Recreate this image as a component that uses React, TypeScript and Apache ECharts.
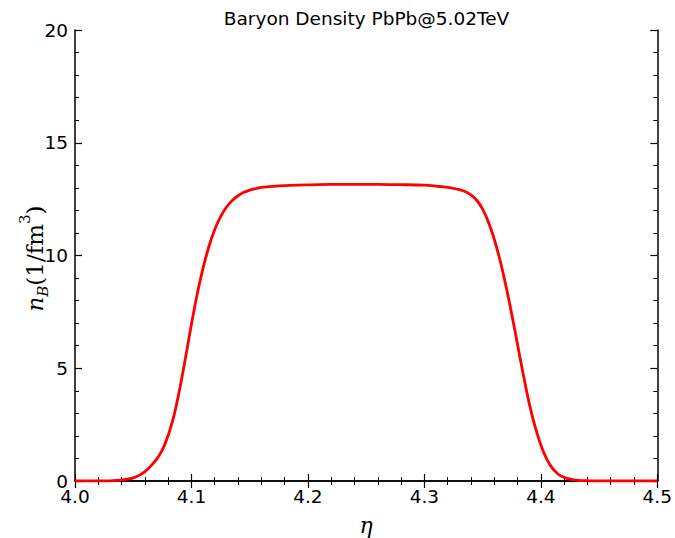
import React, { useEffect, useRef } from "react";
import * as echarts from "echarts";

const etaValues = [
  4.0, 4.01, 4.02, 4.03, 4.04, 4.045, 4.05, 4.055, 4.06, 4.065, 4.07, 4.075, 4.08, 4.085, 4.09, 4.095,
  4.1, 4.105, 4.11, 4.115, 4.12, 4.125, 4.13, 4.135, 4.14, 4.145, 4.15, 4.155, 4.16, 4.17, 4.18, 4.2,
  4.22, 4.24, 4.26, 4.28, 4.3, 4.31, 4.315, 4.32, 4.325, 4.33, 4.335, 4.34, 4.345, 4.35, 4.355, 4.36,
  4.365, 4.37, 4.375, 4.38, 4.385, 4.39, 4.395, 4.4, 4.405, 4.41, 4.415, 4.42, 4.425, 4.43, 4.435, 4.44,
  4.45, 4.5,
];
const nBValues = [
  0, 0, 0, 0.01, 0.04, 0.08, 0.14, 0.25, 0.42, 0.66, 0.96, 1.38, 2.02, 2.9, 4.1, 5.5,
  6.95, 8.3, 9.45, 10.4, 11.15, 11.72, 12.14, 12.44, 12.65, 12.8, 12.9, 12.97, 13.02, 13.07, 13.1, 13.13,
  13.15, 13.15, 13.15, 13.14, 13.12, 13.08, 13.05, 13.02, 12.98, 12.92, 12.84, 12.69, 12.45, 12.06, 11.48, 10.72,
  9.78, 8.66, 7.4, 6.05, 4.7, 3.45, 2.42, 1.6, 0.98, 0.56, 0.3, 0.16, 0.08, 0.04, 0.02, 0.01,
  0, 0,
];
const xTicks = { min: 4.0, max: 4.5, interval: 0.1 };
const yTicks = { min: 0, max: 20, interval: 5 };
const titleText = "Baryon Density PbPb@5.02TeV";
const xName = "η";

const SANS = "DejaVu Sans";
const SERIF = "DejaVu Serif";

function measure(text: string, font: string): number {
  const c = document.createElement("canvas");
  const ctx = c.getContext("2d");
  if (!ctx) return text.length * 10;
  ctx.font = font;
  return ctx.measureText(text).width;
}

export default function App() {
  const ref = useRef<HTMLDivElement>(null);
  useEffect(() => {
    if (!ref.current) return;
    const chart = echarts.init(ref.current, undefined, { renderer: "svg" });
    const gridLeft = 75, gridRight = 17, gridTop = 30, gridBottom = 57;

    // y-axis label pieces
    const mainSize = 23, smallSize = 15;
    const pieces = [
      { text: "n", size: mainSize, italic: true, base: 0 },
      { text: "B", size: smallSize, italic: true, base: 5 },
      { text: "(1/fm", size: mainSize, italic: false, base: 0 },
      { text: "3", size: smallSize, italic: false, base: -13 },
      { text: ")", size: mainSize, italic: false, base: 0 },
    ];
    const widths = pieces.map((p) =>
      measure(p.text, `${p.italic ? "italic " : ""}${p.size}px "${SERIF}"`)
    );
    const total = widths.reduce((a, b) => a + b, 0);
    let cur = -total / 2;
    const labelChildren = pieces.map((p, i) => {
      const el = {
        type: "text",
        x: cur,
        y: p.base - 0.35 * p.size,
        style: {
          text: p.text,
          fontFamily: SERIF,
          fontStyle: p.italic ? "italic" : "normal",
          fontSize: p.size,
          fill: "#000",
          align: "left",
          verticalAlign: "middle",
        },
      };
      cur += widths[i];
      return el;
    });

    const axisLine = { show: true, lineStyle: { color: "#000", width: 1.5 } };
    const tick = { show: true, inside: true, length: 7, lineStyle: { color: "#000", width: 1.2 } };
    const minor = { show: true, splitNumber: 5, length: 4, lineStyle: { color: "#000", width: 1 } };
    const label = { color: "#000", fontFamily: SANS, fontSize: 18.5 };

    const option = {
      animation: false,
      backgroundColor: "#fff",
      grid: { left: gridLeft, right: gridRight, top: gridTop, bottom: gridBottom, containLabel: false },
      xAxis: [
        {
          type: "value",
          min: xTicks.min,
          max: xTicks.max,
          interval: xTicks.interval,
          position: "bottom",
          axisLine,
          axisTick: tick,
          minorTick: minor,
          splitLine: { show: false },
          axisLabel: { ...label, lineHeight: 16, margin: 7.5, formatter: (v: number) => v.toFixed(1) },
        },
        {
          type: "value",
          min: xTicks.min,
          max: xTicks.max,
          interval: xTicks.interval,
          position: "top",
          axisLine,
          axisTick: tick,
          minorTick: minor,
          splitLine: { show: false },
          axisLabel: { show: false },
        },
      ],
      yAxis: [
        {
          type: "value",
          min: yTicks.min,
          max: yTicks.max,
          interval: yTicks.interval,
          position: "left",
          axisLine,
          axisTick: tick,
          minorTick: minor,
          splitLine: { show: false },
          axisLabel: { ...label, lineHeight: 14, margin: 7 },
        },
        {
          type: "value",
          min: yTicks.min,
          max: yTicks.max,
          interval: yTicks.interval,
          position: "right",
          axisLine,
          axisTick: tick,
          minorTick: minor,
          splitLine: { show: false },
          axisLabel: { show: false },
        },
      ],
      series: [
        {
          type: "line",
          xAxisIndex: 0,
          yAxisIndex: 0,
          data: etaValues.map((x, i) => [x, nBValues[i]]),
          smooth: 0.3,
          showSymbol: false,
          symbol: "none",
          lineStyle: { color: "#ff0000", width: 2.8 },
          z: 3,
        },
      ],
      graphic: [
        {
          type: "text",
          x: 366.5,
          y: 18,
          style: {
            text: titleText,
            fontFamily: SANS,
            fontSize: 18.5,
            fill: "#000",
            align: "center",
            verticalAlign: "middle",
          },
        },
        {
          type: "text",
          x: 366,
          y: 525.5,
          style: {
            text: xName,
            fontFamily: SERIF,
            fontStyle: "italic",
            fontSize: 22,
            fill: "#000",
            align: "center",
            verticalAlign: "middle",
          },
        },
        {
          type: "group",
          x: 43,
          y: 258.5,
          rotation: Math.PI / 2,
          children: labelChildren,
        },
      ],
    };
    chart.setOption(option as any);
    return () => chart.dispose();
  }, []);
  return (
    <div
      ref={ref}
      style={{ position: "fixed", left: 0, top: 0, width: 675, height: 538, background: "#fff" }}
    />
  );
}
